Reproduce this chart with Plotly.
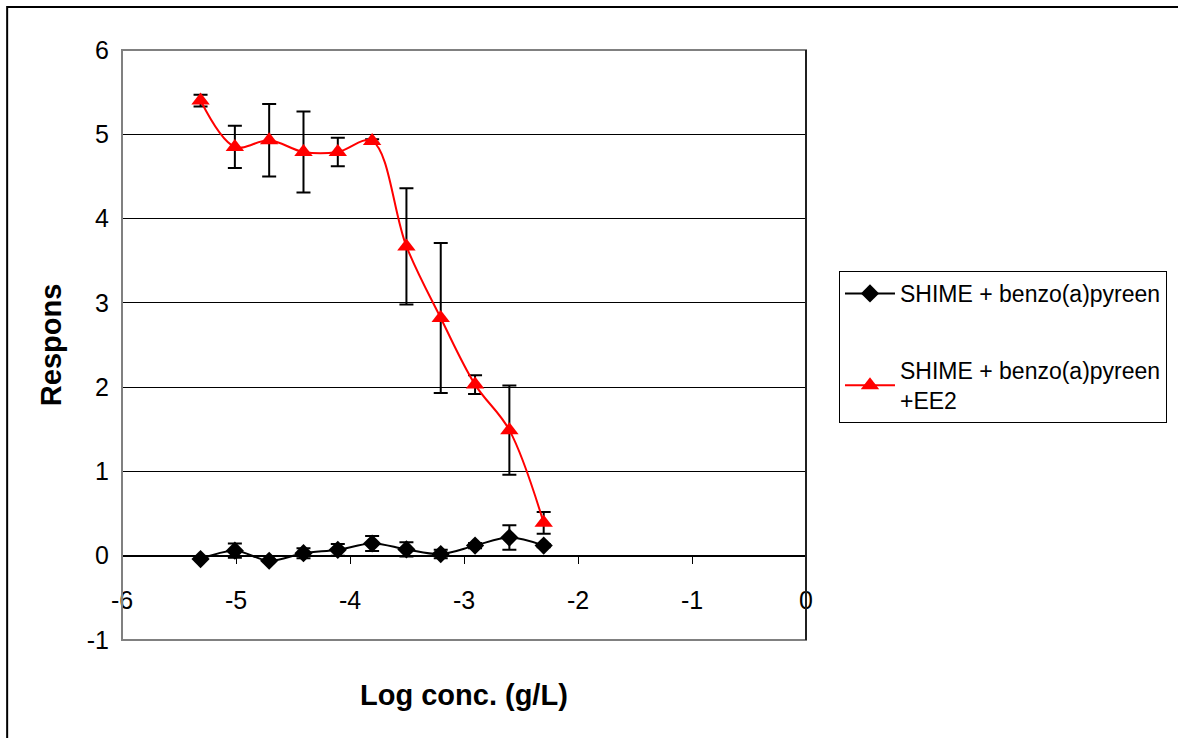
import plotly.graph_objects as go

# log10 concentration (g/L), two-fold dilution series
log_conc = [-5.311, -5.010, -4.709, -4.408, -4.107, -3.806, -3.505, -3.204, -2.903, -2.602, -2.301]

# SHIME + benzo(a)pyreen
bap_resp = [-0.04, 0.06, -0.06, 0.03, 0.07, 0.145, 0.075, 0.02, 0.12, 0.215, 0.12]
bap_err = [0.0, 0.085, 0.0, 0.06, 0.07, 0.09, 0.085, 0.05, 0.03, 0.145, 0.02]

# SHIME + benzo(a)pyreen + EE2
ee2_resp = [5.40, 4.85, 4.93, 4.79, 4.79, 4.92, 3.67, 2.82, 2.03, 1.49, 0.39]
ee2_err = [0.07, 0.25, 0.43, 0.48, 0.17, 0.02, 0.69, 0.89, 0.11, 0.53, 0.13]

x_ticks = [-6, -5, -4, -3, -2, -1, 0]
y_ticks = [-1, 0, 1, 2, 3, 4, 5, 6]

FONT = "Liberation Sans, Arial, sans-serif"

fig = go.Figure()

fig.add_trace(go.Scatter(
    x=log_conc, y=bap_resp,
    name="SHIME + benzo(a)pyreen",
    legendgroup="a",
    mode="lines+markers",
    line=dict(color="black", width=2, shape="spline", smoothing=1),
    marker=dict(symbol="diamond", size=14, color="black"),
    error_y=dict(type="data", array=bap_err, visible=True,
                 color="black", thickness=2, width=7),
))

fig.add_trace(go.Scatter(
    x=log_conc, y=ee2_resp,
    name="SHIME + benzo(a)pyreen<br>+EE2",
    legendgroup="b",
    mode="lines+markers",
    line=dict(color="#ff0000", width=2, shape="spline", smoothing=1),
    marker=dict(symbol="triangle-up", size=16, color="#ff0000"),
    error_y=dict(type="data", array=ee2_err, visible=True,
                 color="black", thickness=2, width=7),
))

fig.update_layout(
    width=1178, height=738,
    margin=dict(l=122, r=371, t=50, b=98),
    paper_bgcolor="white",
    plot_bgcolor="white",
    font=dict(family=FONT, size=23, color="black"),
    showlegend=True,
    legend=dict(
        x=1.0467, y=0.6254, xanchor="left", yanchor="top",
        bordercolor="black", borderwidth=1,
        font=dict(family=FONT, size=23, color="black"),
        tracegroupgap=44,
        itemwidth=50,
        traceorder="grouped",
    ),
    xaxis=dict(
        range=[-6, 0],
        tickmode="array", tickvals=x_ticks,
        ticktext=[str(v) for v in x_ticks],
        anchor="free", position=1 / 7,
        showline=True, linecolor="black", linewidth=1,
        ticks="outside", ticklen=7, tickcolor="black", tickwidth=1,
        ticklabelstandoff=15,
        showgrid=False, zeroline=False,
        tickfont=dict(size=25),
    ),
    yaxis=dict(
        range=[-1, 6],
        tickmode="array", tickvals=y_ticks,
        ticktext=[str(v) for v in y_ticks],
        showline=False, ticks="",
        ticklabelstandoff=12,
        showgrid=True, gridcolor="black", gridwidth=1,
        zeroline=False,
        tickfont=dict(size=25),
    ),
    shapes=[
        # outer chart frame
        dict(type="rect", xref="paper", yref="paper",
             x0=-0.1679, x1=2.0, y0=-1.0, y1=1.0729,
             line=dict(color="black", width=2), layer="below"),
        # plot area border
        dict(type="rect", xref="paper", yref="paper",
             x0=0, x1=1, y0=0, y1=1,
             line=dict(color="#808080", width=2), layer="above"),
        dict(type="line", xref="paper", yref="paper",
             x0=1, x1=1, y0=0, y1=1,
             line=dict(color="black", width=1.5), layer="above"),
    ],
    annotations=[
        dict(text="<b>Log conc. (g/L)</b>", xref="paper", yref="paper",
             x=0.5, y=-0.093, xanchor="center", yanchor="middle",
             showarrow=False, font=dict(family=FONT, size=29, color="black")),
        dict(text="<b>Respons</b>", xref="paper", yref="paper",
             x=-0.1036, y=0.5, xanchor="center", yanchor="middle",
             textangle=-90,
             showarrow=False, font=dict(family=FONT, size=29, color="black")),
    ],
)

fig.write_html("out.html")
